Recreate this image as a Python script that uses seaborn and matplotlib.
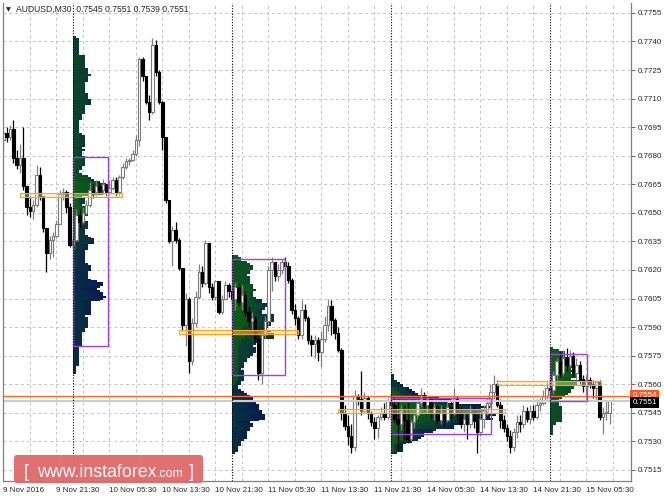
import numpy as np
import pandas as pd
import matplotlib
matplotlib.use("Agg")
import matplotlib.pyplot as plt
import matplotlib.transforms as mtransforms
from matplotlib.patches import Rectangle, FancyBboxPatch
import seaborn as sns

sns.set_style("white")
plt.rcParams['font.family'] = ['Liberation Sans', 'DejaVu Sans']

PIP = 10000.0

# AUDUSD M30 candles, prices in 1/10000
first_open = 7688
closes = [
    7692, 7690, 7694, 7679, 7675, 7679, 7664, 7653, 7651, 7654, 7670, 7659, 7642, 7629, 7636, 7638,
    7644, 7660, 7661, 7653, 7633, 7636, 7649, 7645, 7650, 7654, 7662, 7661, 7664, 7662, 7665, 7661,
    7663, 7667, 7661, 7669, 7674, 7677, 7678, 7681, 7688, 7731, 7722, 7708, 7703, 7738, 7724, 7708,
    7690, 7657, 7635, 7641, 7636, 7621, 7591, 7605, 7572, 7592, 7606, 7619, 7613, 7634, 7611, 7606,
    7614, 7598, 7605, 7612, 7609, 7605, 7611, 7603, 7607, 7598, 7593, 7595, 7584, 7566, 7586, 7593,
    7620, 7624, 7617, 7620, 7624, 7622, 7615, 7599, 7595, 7586, 7599, 7595, 7583, 7581, 7583, 7577,
    7584, 7591, 7601, 7594, 7587, 7578, 7545, 7538, 7533, 7527, 7554, 7552, 7546, 7553, 7545, 7540,
    7537, 7543, 7545, 7543, 7551, 7549, 7542, 7539, 7546, 7541, 7531, 7540, 7544, 7550, 7554, 7549,
    7552, 7545, 7548, 7541, 7545, 7541, 7548, 7545, 7553, 7545, 7539, 7542, 7539, 7545, 7541, 7535,
    7542, 7546, 7550, 7556, 7560, 7549, 7541, 7537, 7533, 7527, 7535, 7540, 7539, 7546, 7542, 7546,
    7543, 7549, 7550, 7554, 7558, 7557, 7565, 7572, 7566, 7574, 7570, 7575, 7566, 7570, 7563, 7559,
    7562, 7560, 7558, 7561, 7543, 7545, 7545, 7551,
]
highs = [
    7695, 7695, 7696, 7699, 7683, 7686, 7695, 7664, 7659, 7657, 7675, 7674, 7659, 7642, 7638, 7640,
    7646, 7662, 7663, 7662, 7655, 7638, 7652, 7652, 7653, 7657, 7666, 7665, 7667, 7666, 7668, 7665,
    7667, 7669, 7669, 7670, 7676, 7679, 7679, 7683, 7691, 7732, 7732, 7722, 7712, 7742, 7741, 7725,
    7709, 7690, 7657, 7643, 7645, 7637, 7621, 7608, 7606, 7595, 7609, 7623, 7622, 7636, 7634, 7613,
    7615, 7614, 7607, 7614, 7613, 7612, 7613, 7613, 7612, 7609, 7601, 7598, 7596, 7586, 7588, 7596,
    7622, 7627, 7624, 7623, 7626, 7627, 7624, 7616, 7602, 7596, 7604, 7602, 7596, 7586, 7586, 7585,
    7588, 7596, 7605, 7604, 7595, 7590, 7579, 7549, 7544, 7539, 7557, 7555, 7567, 7556, 7554, 7546,
    7543, 7544, 7548, 7550, 7553, 7555, 7554, 7553, 7549, 7549, 7550, 7542, 7545, 7552, 7558, 7556,
    7554, 7553, 7550, 7549, 7549, 7548, 7551, 7552, 7558, 7554, 7548, 7545, 7546, 7549, 7548, 7544,
    7546, 7549, 7553, 7560, 7565, 7562, 7552, 7544, 7539, 7536, 7537, 7544, 7544, 7549, 7548, 7549,
    7549, 7552, 7553, 7557, 7561, 7562, 7567, 7574, 7577, 7578, 7579, 7578, 7577, 7574, 7572, 7565,
    7565, 7564, 7562, 7562, 7562, 7548, 7551, 7551,
]
lows = [
    7683, 7687, 7688, 7676, 7673, 7671, 7662, 7649, 7648, 7647, 7653, 7657, 7640, 7619, 7626, 7627,
    7637, 7644, 7657, 7650, 7632, 7631, 7635, 7642, 7644, 7649, 7653, 7658, 7659, 7660, 7660, 7659,
    7660, 7662, 7659, 7659, 7668, 7673, 7675, 7677, 7680, 7685, 7719, 7707, 7699, 7702, 7722, 7707,
    7683, 7655, 7634, 7622, 7634, 7620, 7588, 7580, 7566, 7570, 7590, 7605, 7611, 7612, 7608, 7604,
    7604, 7597, 7597, 7604, 7606, 7602, 7599, 7601, 7599, 7596, 7590, 7588, 7582, 7562, 7560, 7584,
    7591, 7609, 7614, 7614, 7618, 7620, 7613, 7597, 7591, 7584, 7584, 7593, 7581, 7575, 7574, 7572,
    7569, 7582, 7588, 7586, 7584, 7577, 7541, 7536, 7528, 7524, 7525, 7549, 7544, 7545, 7542, 7538,
    7531, 7532, 7541, 7541, 7542, 7541, 7540, 7525, 7536, 7531, 7529, 7530, 7537, 7542, 7548, 7546,
    7545, 7542, 7541, 7539, 7539, 7538, 7540, 7542, 7544, 7542, 7537, 7535, 7531, 7537, 7537, 7524,
    7533, 7537, 7544, 7548, 7552, 7548, 7537, 7535, 7530, 7524, 7525, 7532, 7535, 7537, 7540, 7539,
    7541, 7542, 7546, 7549, 7552, 7554, 7555, 7562, 7564, 7565, 7567, 7569, 7564, 7562, 7560, 7556,
    7552, 7558, 7553, 7551, 7541, 7534, 7541, 7539,
]

x_labels = ["9 Nov 2016", "9 Nov 21:30", "10 Nov 05:30", "10 Nov 13:30", "10 Nov 21:30",
            "11 Nov 05:30", "11 Nov 13:30", "11 Nov 21:30", "14 Nov 05:30", "14 Nov 13:30",
            "14 Nov 21:30", "15 Nov 05:30"]
x_label_bars = [0, 16, 32, 48, 64, 80, 96, 112, 128, 144, 160, 176]

# market profile sessions (bar index where each day starts / ends)
day_starts = [21, 69, 117, 165]
day_ends = [69, 117, 165, 184]

# value areas and points of control
va_low = [7580.1, 7564.9, 7533.9, 7551.0]
va_high = [7679.4, 7625.8, 7552.8, 7576.0]
va_right = [31.6, 85.0, 147.2, 176.2]

poc_price = [7659.4, 7587.5, 7546.0, 7560.7]
poc_from = [5.0, 53.0, 101.0, 149.0]
poc_to = [35.8, 88.9, 151.4, 180.4]

ask_price = 0.7554
bid_price = 0.7551
price_ticks = np.arange(7515, 7756, 15)

df = pd.DataFrame({"close": closes, "high": highs, "low": lows}) / PIP
df["open"] = df["close"].shift(1).fillna(first_open / PIP)
df["bull"] = df["close"] >= df["open"]

fig = plt.figure(figsize=(6.64, 4.98), dpi=100)
ax = fig.add_axes([3 / 664, 17 / 498, 628 / 664, 478 / 498])

grid_kw = dict(color="#c4c4c4", lw=0.7, ls=(0, (3, 3)), zorder=0)
for b in range(0, 190, 8):
    ax.axvline(b, **grid_kw)
for p in price_ticks:
    ax.axhline(p / PIP, **grid_kw)

# profiles: one block per candle touching a price row, coloured by time of day
green = np.array([0.05, 0.40, 0.05])
navy = np.array([0.03, 0.11, 0.33])
block = 0.9
for s, e in zip(day_starts, day_ends):
    seg = df.iloc[s:e]
    lo_arr = np.round(seg["low"].values * PIP).astype(int)
    hi_arr = np.round(seg["high"].values * PIP).astype(int)
    rows = np.arange(lo_arr.min(), hi_arr.max() + 1)
    touch = (lo_arr[None, :] <= rows[:, None]) & (hi_arr[None, :] >= rows[:, None])
    width = touch.sum(axis=1).max()
    img = np.zeros((len(rows), width, 4))
    for r in range(len(rows)):
        for k, j in enumerate(np.nonzero(touch[r])[0]):
            t = j / 47.0
            img[r, k, :3] = green * (1 - t) + navy * t
            img[r, k, 3] = 1.0
    ax.imshow(img, origin="lower", aspect="auto", interpolation="nearest",
              extent=[s, s + width * block, (rows[0] - 0.5) / PIP, (rows[-1] + 0.5) / PIP],
              zorder=1)

# candles
wick_col = np.where(df["bull"], "#808080", "black")
ax.vlines(df.index, df["low"], df["high"], colors=wick_col, lw=0.9, zorder=2)
body_lo = df[["open", "close"]].min(axis=1)
body_h = (df["close"] - df["open"]).abs().clip(lower=0.00002)
bull = df["bull"]
ax.bar(df.index[bull], body_h[bull], bottom=body_lo[bull], width=0.75,
       color="white", edgecolor="#7a7a7a", lw=0.8, zorder=2.2)
ax.bar(df.index[~bull], body_h[~bull], bottom=body_lo[~bull], width=0.75,
       color="black", edgecolor="black", lw=0.8, zorder=2.2)

ax.axhline(bid_price, color="#cccccc", lw=1.6, zorder=2.5)
ax.axhline(ask_price, color="#ff6a20", lw=1.0, zorder=2.6)

for s, r, lo, hi in zip(day_starts, va_right, va_low, va_high):
    ax.add_patch(Rectangle((s, lo / PIP), r - s, (hi - lo) / PIP, fill=False,
                           ec="#a040e0", lw=1.0, zorder=3))
for a, b, p in zip(poc_from, poc_to, poc_price):
    ax.add_patch(Rectangle((a, p / PIP - 0.000085), b - a, 0.00017,
                           fc=(1.0, 0.87, 0.55, 0.45), ec="#ffa31a", lw=0.8, zorder=3.5))

for s in day_starts:
    ax.axvline(s, color="black", lw=0.8, ls=(0, (1, 1.5)), zorder=4)

ax.set_xlim(-0.12, 189.46)
ax.set_ylim(0.75092, 0.77602)

ax.yaxis.tick_right()
ax.set_yticks(price_ticks / PIP)
ax.set_yticklabels([f"{p / PIP:.4f}" for p in price_ticks])
ax.set_xticks(x_label_bars)
ax.set_xticklabels(x_labels, ha="left")
ax.tick_params(axis="y", labelsize=5.8, length=3, width=0.6, color="#505050", pad=1.5)
ax.tick_params(axis="x", labelsize=5.8, length=3, width=0.6, color="#505050", pad=1.5)
for side in ["left", "right", "bottom"]:
    ax.spines[side].set_color("#808080")
    ax.spines[side].set_linewidth(0.9)
ax.spines["top"].set_visible(False)

trans = mtransforms.blended_transform_factory(ax.transAxes, ax.transData)
ax.text(1.002, ask_price, f"{ask_price:.4f}", transform=trans, fontsize=5.8, color="white",
        va="center", ha="left", clip_on=False, zorder=6,
        bbox=dict(boxstyle="square,pad=0.25", fc="#ff5a1e", ec="none"))
ax.text(1.002, bid_price - 0.00004, f"{bid_price:.4f}", transform=trans, fontsize=5.8,
        color="white", va="center", ha="left", clip_on=False, zorder=7,
        bbox=dict(boxstyle="square,pad=0.25", fc="black", ec="none"))

# overlay in pixel units for header and watermark
ov = fig.add_axes([0, 0, 1, 1], facecolor="none")
ov.set_xlim(0, 664)
ov.set_ylim(498, 0)
ov.axis("off")
ov.text(6, 9.5, "\u25bc", fontsize=4.5, va="center", ha="left", family="DejaVu Sans")
ov.text(16, 9.5, "AUDUSD,M30  0.7545 0.7551 0.7539 0.7551", fontsize=6.2,
        va="center", ha="left")
ov.add_patch(FancyBboxPatch((14, 455), 189, 28, boxstyle="round,pad=0,rounding_size=3",
                            fc="#e06868", ec="none", alpha=0.95))
ov.text(24, 477, "[", fontsize=13, color="white", va="baseline", ha="left")
ov.text(37, 477, "www.instaforex", fontsize=12.8, color="white", va="baseline", ha="left")
ov.text(157, 477, ".com", fontsize=9, color="white", va="baseline", ha="left")
ov.text(189, 477, "]", fontsize=13, color="white", va="baseline", ha="left")

fig.savefig("out.png", dpi=100)
